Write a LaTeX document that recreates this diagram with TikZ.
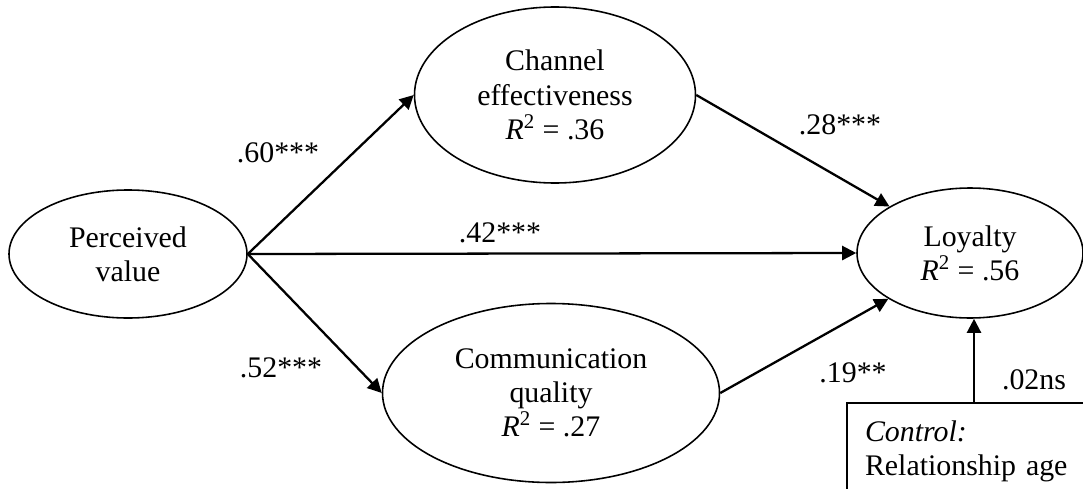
\documentclass[tikz,border=0pt]{standalone}
\usepackage{fontspec}
\setmainfont{Liberation Serif}
\usetikzlibrary{shapes.geometric,arrows.meta}

\begin{document}
\begin{tikzpicture}[
	every node/.style={font=\fontsize{17}{19.5}\selectfont},
	latent/.style={draw,ellipse,line width=0.9pt,inner sep=0pt,align=center},
	effect/.style={line width=1.3pt,-{Triangle[length=0.28cm,width=0.28cm]}}
]
	\useasboundingbox (0,0) rectangle (21.66,-9.76);
	\clip (0,0) rectangle (21.66,-9.76);
	\node[latent,minimum width=4.76cm,minimum height=2.56cm] (PV) at (2.56,-5.08) {Perceived\\value};
	\node[latent,minimum width=5.62cm,minimum height=3.52cm] (CE) at (11.10,-1.90) {Channel\\effectiveness\\\textit{R}\textsuperscript{2} = .36};
	\node[latent,minimum width=6.74cm,minimum height=3.58cm] (CQ) at (11.02,-7.86) {Communication\\quality\\\textit{R}\textsuperscript{2} = .27};
	\node[latent,minimum width=4.52cm,minimum height=2.6cm] (LO) at (19.40,-5.06) {Loyalty\\\textit{R}\textsuperscript{2} = .56};
	\node[draw,line width=0.9pt,anchor=north,minimum width=5.08cm,text width=4.36cm,inner sep=0.36cm,align=left] (CB) at (19.48,-8.04) {\textit{Control:}\\Relationship age};
	\node (e60) at (5.56,-3.06) {.60***};
	\node (e52) at (5.62,-7.36) {.52***};
	\node (e42) at (10.00,-4.66) {.42***};
	\node (e28) at (16.80,-2.50) {.28***};
	\node (e19) at (17.06,-7.46) {.19**};
	\node (e02) at (20.68,-7.60) {.02ns};
	\draw [effect] (PV.east) -- (CE.west);
	\draw [effect] (PV.east) -- (LO.west);
	\draw [effect] (PV.east) -- (CQ.west);
	\draw [effect] (CE.east) -- (LO);
	\draw [effect] (CQ.east) -- (LO);
	\draw [effect] (CB.north) -- (CB.north |- LO.south);
\end{tikzpicture}
\end{document}
